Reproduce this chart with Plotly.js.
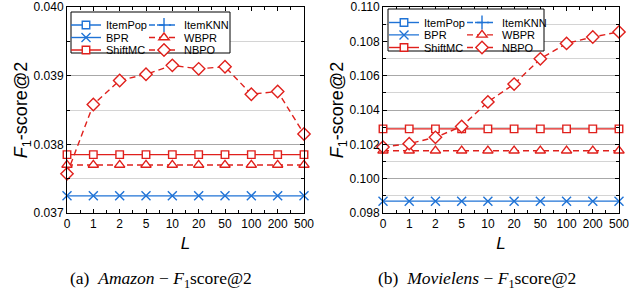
<!DOCTYPE html>
<html><head><meta charset="utf-8">
<script src="https://cdn.plot.ly/plotly-3.0.1.min.js"></script>
<style>html,body{margin:0;padding:0;background:#fff}</style>
</head><body><div id="chart" style="width:629px;height:292px"></div>
<script>
// ---- data ----
const L_LABELS = ['0','1','2','5','10','20','50','100','200','500'];
const SERIES_NAMES = ['ItemPop','ItemKNN','BPR','WBPR','ShiftMC','NBPO'];

// Amazon F1-score@2 (ItemPop / ItemKNN lie outside the shown range: not readable)
const AMZ_ITEMPOP = [null,null,null,null,null,null,null,null,null,null];
const AMZ_ITEMKNN = [null,null,null,null,null,null,null,null,null,null];
const AMZ_BPR     = [0.03725,0.03725,0.03725,0.03725,0.03725,0.03725,0.03725,0.03725,0.03725,0.03725];
const AMZ_WBPR    = [0.03770,0.03770,0.03770,0.03770,0.03770,0.03770,0.03770,0.03770,0.03770,0.03770];
const AMZ_SHIFTMC = [0.03785,0.03785,0.03785,0.03785,0.03785,0.03785,0.03785,0.03785,0.03785,0.03785];
const AMZ_NBPO    = [0.03757,0.03858,0.03893,0.03902,0.03915,0.03910,0.03913,0.03873,0.03877,0.03815];

// Movielens F1-score@2
const ML_ITEMPOP = [null,null,null,null,null,null,null,null,null,null];
const ML_ITEMKNN = [null,null,null,null,null,null,null,null,null,null];
const ML_BPR     = [0.09869,0.09869,0.09869,0.09869,0.09869,0.09869,0.09869,0.09869,0.09869,0.09869];
const ML_WBPR    = [0.10163,0.10163,0.10163,0.10163,0.10163,0.10163,0.10163,0.10163,0.10163,0.10163];
const ML_SHIFTMC = [0.10290,0.10290,0.10290,0.10290,0.10290,0.10290,0.10290,0.10290,0.10290,0.10290];
const ML_NBPO    = [0.10184,0.10204,0.10241,0.10304,0.10447,0.10551,0.10698,0.10788,0.10825,0.10855];

const CAPTIONS = ['(a)&nbsp;&nbsp;<i>Amazon</i> − <i>F</i><sub>1</sub>score@2',
                  '(b)&nbsp;&nbsp;<i>Movielens</i> − <i>F</i><sub>1</sub>score@2'];

// ---- styles ----
const W = 629, H = 292;
const BLUE = '#1f73d6', RED = '#e0201c';
const STYLE = {
  ItemPop: {color: BLUE, dash: 'solid',   symbol: 'square',      size: 7.5, fill: '#fff'},
  ItemKNN: {color: BLUE, dash: '6px,4px', symbol: 'cross-thin',  size: 10,  fill: BLUE},
  BPR:     {color: BLUE, dash: 'solid',   symbol: 'x-thin',      size: 9,   fill: BLUE},
  WBPR:    {color: RED,  dash: '6px,4px', symbol: 'triangle-up', size: 9,   fill: '#fff'},
  ShiftMC: {color: RED,  dash: 'solid',   symbol: 'square',      size: 7.5, fill: '#fff'},
  NBPO:    {color: RED,  dash: '6px,4px', symbol: 'diamond',     size: 9.5, fill: '#fff'}
};
const ROW_OF = {ItemPop:0, ItemKNN:0, BPR:1, WBPR:1, ShiftMC:2, NBPO:2};
const COL_OF = {ItemPop:0, ItemKNN:1, BPR:0, WBPR:1, ShiftMC:0, NBPO:1};

const xIdx = L_LABELS.map((_, i) => i);
function panelTraces(vals, xa, ya, legendBase) {
  return SERIES_NAMES.map(n => {
    const s = STYLE[n];
    const k = legendBase + ROW_OF[n];
    return {
      type: 'scatter', mode: 'lines+markers', name: n,
      x: xIdx, y: vals[n], xaxis: xa, yaxis: ya,
      cliponaxis: false,
      legend: k === 1 ? 'legend' : 'legend' + k,
      legendwidth: COL_OF[n] === 0 ? 33 : 60,
      line: {color: s.color, width: 1.4, dash: s.dash},
      marker: {symbol: s.symbol, size: s.size, color: s.fill,
               line: {color: s.color, width: 1.4}}
    };
  });
}

const data = [].concat(
  panelTraces({ItemPop: AMZ_ITEMPOP, ItemKNN: AMZ_ITEMKNN, BPR: AMZ_BPR, WBPR: AMZ_WBPR,
               ShiftMC: AMZ_SHIFTMC, NBPO: AMZ_NBPO}, 'x', 'y', 1),
  panelTraces({ItemPop: ML_ITEMPOP, ItemKNN: ML_ITEMKNN, BPR: ML_BPR, WBPR: ML_WBPR,
               ShiftMC: ML_SHIFTMC, NBPO: ML_NBPO}, 'x2', 'y2', 4)
);

const FONT = 'Liberation Sans, Arial, sans-serif';
function xAxis(domain, anchor) {
  return {
    domain: domain, anchor: anchor, range: [0, 9],
    tickmode: 'array', tickvals: xIdx, ticktext: L_LABELS,
    ticks: 'inside', ticklen: 4, tickcolor: '#000', tickwidth: 1,
    minor: {tick0: 0, dtick: 0.5, ticks: 'inside', ticklen: 3, tickcolor: '#000', showgrid: false},
    showline: true, linecolor: '#000', linewidth: 1, mirror: 'allticks',
    showgrid: false, zeroline: false, ticklabeloverflow: 'allow',
    tickfont: {family: FONT, size: 12, color: '#000'},
    title: {text: '<i>L</i>', font: {family: FONT, size: 17, color: '#000'}, standoff: 6}
  };
}
function yAxis(range, dtick, anchor) {
  return {
    domain: [1 - 213 / H, 1 - 7 / H], anchor: anchor, range: range,
    tick0: range[0], dtick: dtick, tickformat: '.3f',
    ticks: 'inside', ticklen: 4, tickcolor: '#000', tickwidth: 1,
    minor: {dtick: dtick / 2, ticks: 'inside', ticklen: 3, tickcolor: '#000',
            showgrid: true, gridcolor: '#d4d4d4', gridwidth: 1},
    showline: true, linecolor: '#000', linewidth: 1, mirror: 'allticks',
    showgrid: true, gridcolor: '#a8a8a8', gridwidth: 1, zeroline: false,
    ticklabeloverflow: 'allow',
    tickfont: {family: FONT, size: 12, color: '#000'},
    title: {text: '<i>F</i><sub>1</sub>-score@2', font: {family: FONT, size: 18, color: '#000'}, standoff: 0}
  };
}

function rowLegend(xPx, topPx) {
  return {
    x: xPx / W, y: 1 - topPx / H, xanchor: 'left', yanchor: 'top',
    orientation: 'h', entrywidthmode: 'pixels',
    bgcolor: 'rgba(0,0,0,0)', borderwidth: 0, itemclick: false,
    font: {family: FONT, size: 11, color: '#000'}
  };
}

const layout = {
  width: W, height: H,
  margin: {l: 0, r: 0, t: 0, b: 0},
  paper_bgcolor: '#fff', plot_bgcolor: '#fff',
  showlegend: true,
  xaxis: xAxis([67 / W, 304 / W], 'y'),
  yaxis: yAxis([0.037, 0.040], 0.001, 'x'),
  xaxis2: xAxis([383 / W, 619 / W], 'y2'),
  yaxis2: yAxis([0.098, 0.110], 0.002, 'x2'),
  legend:  rowLegend(66, 10.5),
  legend2: rowLegend(66, 23),
  legend3: rowLegend(66, 35.5),
  legend4: rowLegend(384, 8),
  legend5: rowLegend(384, 20.4),
  legend6: rowLegend(384, 33),
  shapes: [
    {type: 'rect', xref: 'paper', yref: 'paper', layer: 'above',
     x0: 71 / W, x1: 230 / W, y0: 1 - 53 / H, y1: 1 - 12 / H,
     fillcolor: '#fff', line: {color: '#000', width: 1}},
    {type: 'rect', xref: 'paper', yref: 'paper', layer: 'above',
     x0: 388 / W, x1: 544 / W, y0: 1 - 51 / H, y1: 1 - 9 / H,
     fillcolor: '#fff', line: {color: '#000', width: 1}}
  ],
  annotations: [
    {text: CAPTIONS[0], xref: 'paper', yref: 'paper', x: 161 / W, y: 1 - 279 / H,
     xanchor: 'center', yanchor: 'middle', showarrow: false,
     font: {family: 'Liberation Serif, Times New Roman, serif', size: 17.5, color: '#000'}},
    {text: CAPTIONS[1], xref: 'paper', yref: 'paper', x: 477 / W, y: 1 - 279 / H,
     xanchor: 'center', yanchor: 'middle', showarrow: false,
     font: {family: 'Liberation Serif, Times New Roman, serif', size: 17.5, color: '#000'}}
  ]
};

Plotly.newPlot('chart', data, layout, {displayModeBar: false, staticPlot: true});
</script></body></html>
